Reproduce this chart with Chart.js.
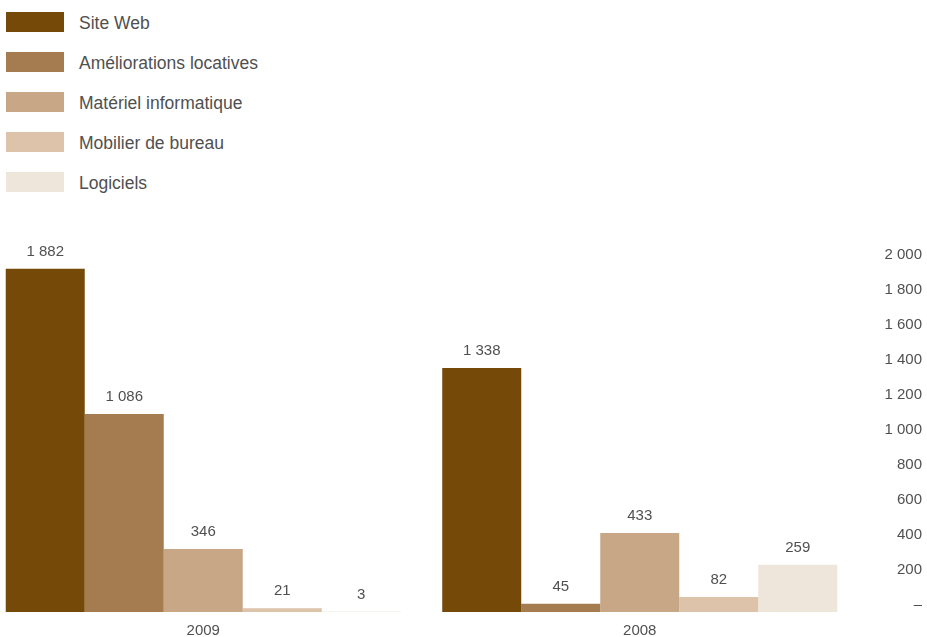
<!DOCTYPE html>
<html lang="fr">
<head>
<meta charset="utf-8">
<title>Immobilisations</title>
<script src="https://cdn.jsdelivr.net/npm/chart.js@4/dist/chart.umd.min.js"></script>
<style>
  html, body { margin: 0; padding: 0; background: #fff; overflow: hidden; }
  body { width: 927px; height: 637px; position: relative; font-family: "Liberation Sans", Arial, sans-serif; }
  #legend { position: absolute; left: 6px; top: 12px; margin: 0; padding: 0; list-style: none; }
  #legend li { display: flex; align-items: center; height: 20px; margin-bottom: 20px; color: #505050; font-size: 17.5px; }
  #legend li span.txt { position: relative; top: 1px; }
  #legend .swatch { width: 58px; height: 20px; margin-right: 15px; }
  #chart { position: absolute; left: -15px; top: 0; }
</style>
</head>
<body>
<ul id="legend"></ul>
<canvas id="chart" width="942" height="637"></canvas>
<script>
// années
const years = ['2009', '2008'];

// catégories d'immobilisations
const seriesNames = ['Site Web', 'Améliorations locatives', 'Matériel informatique', 'Mobilier de bureau', 'Logiciels'];
const seriesColors = ['#754a08', '#a57c4f', '#c8a787', '#dcc3a9', '#eee6db'];

// valeurs par catégorie (2009, 2008)
const siteWeb = [1882, 1338];
const ameliorations = [1086, 45];
const materiel = [346, 433];
const mobilier = [21, 82];
const logiciels = [3, 259];

// graduations de l'axe de droite
const tickValues = [0, 200, 400, 600, 800, 1000, 1200, 1400, 1600, 1800, 2000];
const tickLabels = ['–', '200', '400', '600', '800', '1 000', '1 200', '1 400', '1 600', '1 800', '2 000'];

const seriesValues = [siteWeb, ameliorations, materiel, mobilier, logiciels];
const textColor = '#505050';
const fontFamily = '"Liberation Sans", Arial, sans-serif';

function formatNombre(v) {
    return String(v).replace(/\B(?=(\d{3})+(?!\d))/g, ' ');
}

// légende en liste verticale
const legend = document.getElementById('legend');
seriesNames.forEach((name, i) => {
    const li = document.createElement('li');
    const sw = document.createElement('span');
    sw.className = 'swatch';
    sw.style.background = seriesColors[i];
    const txt = document.createElement('span');
    txt.className = 'txt';
    txt.textContent = name;
    li.appendChild(sw);
    li.appendChild(txt);
    legend.appendChild(li);
});

// valeurs écrites au-dessus des barres
const barLabels = {
    id: 'barLabels',
    afterDatasetsDraw(chart) {
        const ctx = chart.ctx;
        ctx.save();
        ctx.font = '15px ' + fontFamily;
        ctx.fillStyle = textColor;
        ctx.textAlign = 'center';
        ctx.textBaseline = 'middle';
        chart.data.datasets.forEach((ds, i) => {
            chart.getDatasetMeta(i).data.forEach((bar, j) => {
                ctx.fillText(formatNombre(ds.data[j]), bar.x, bar.y - 17);
            });
        });
        ctx.restore();
    }
};

const ctx = document.getElementById('chart').getContext('2d');
new Chart(ctx, {
    type: 'bar',
    data: {
        labels: years,
        datasets: seriesNames.map((name, i) => ({
            label: name,
            data: seriesValues[i],
            backgroundColor: seriesColors[i],
            borderWidth: 0,
            barPercentage: 1,
            categoryPercentage: 0.905,
            yAxisID: 'y',
        })),
    },
    options: {
        responsive: false,
        animation: false,
        layout: { padding: { top: 229, right: 5, bottom: 0, left: 0 } },
        plugins: {
            legend: { display: false },
            tooltip: { enabled: false },
        },
        scales: {
            x: {
                grid: { display: false, drawTicks: false },
                border: { display: false },
                ticks: {
                    color: textColor,
                    padding: 10,
                    font: { family: fontFamily, size: 15 },
                },
                afterFit(scale) { scale.height = 25; },
            },
            y: {
                display: false,
                min: 0,
                max: 2100,
            },
            y2: {
                position: 'right',
                min: -40,
                max: 2148.6,
                grid: { display: false, drawTicks: false },
                border: { display: false },
                afterBuildTicks(scale) {
                    scale.ticks = tickValues.map(v => ({ value: v }));
                },
                ticks: {
                    color: textColor,
                    padding: 27,
                    crossAlign: 'far',
                    font: { family: fontFamily, size: 15 },
                    callback: (value, index) => tickLabels[index],
                },
                afterFit(scale) {
                    // largeur fixe, sans marge verticale ajoutée par le padding des étiquettes
                    scale.width = 64;
                    scale.paddingTop = 0;
                    scale.paddingBottom = 0;
                },
            },
        },
    },
    plugins: [barLabels],
});
</script>
</body>
</html>
